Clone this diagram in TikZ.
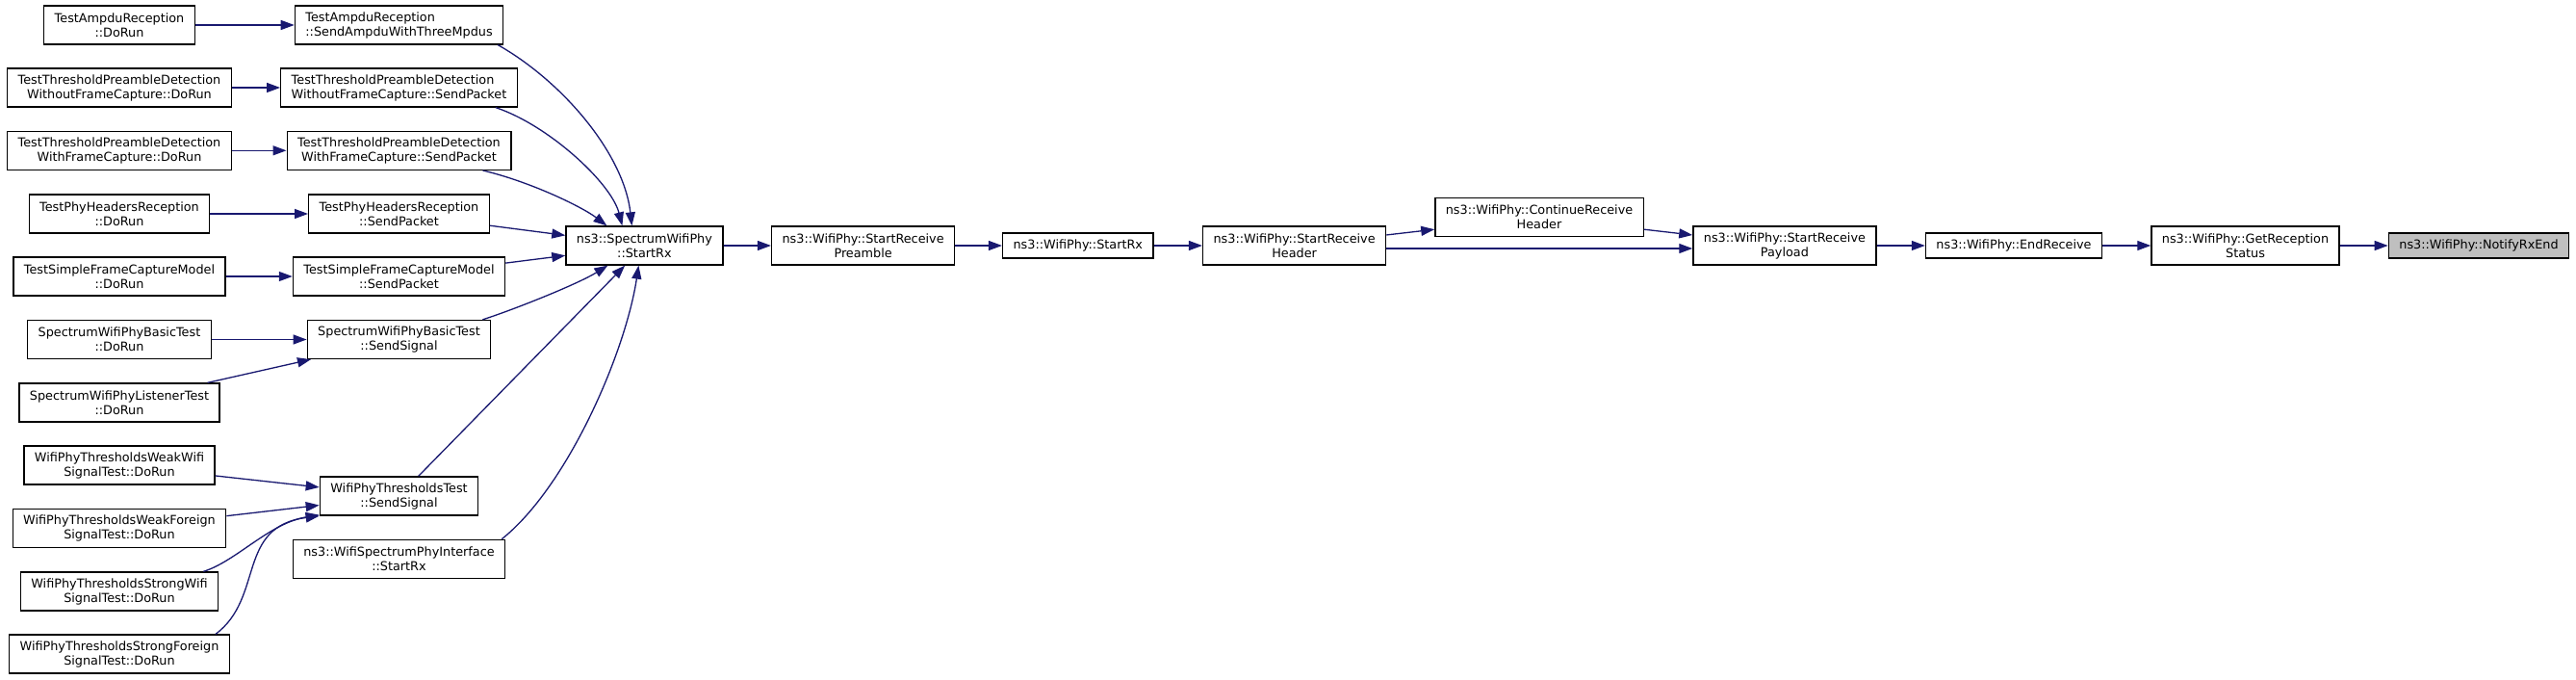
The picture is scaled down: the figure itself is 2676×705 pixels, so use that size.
\documentclass[tikz,border=0pt]{standalone}
\usepackage{fontspec}
\setmainfont{DejaVu Sans}
\usepackage{xcolor}
\usetikzlibrary{arrows.meta}
\definecolor{calledge}{RGB}{25,25,112}
\definecolor{current}{RGB}{191,191,191}
\tikzstyle{fn}=[draw=black, line width=1.3pt, fill=white, inner xsep=11pt, inner ysep=0pt, font=\fontsize{12.8}{15}\selectfont, align=center]
\tikzset{fn2/.style={fn, minimum height=40pt}}
\tikzset{fn1/.style={fn, minimum height=26pt}}
\tikzstyle{current}=[fill = current]
\tikzset{call/.style={-{Triangle[length=14pt,width=10pt]}, line width=1.3pt, color=calledge}}

\begin{document}
\begin{tikzpicture}[x=1pt,y=1pt]
  \useasboundingbox (0,0) rectangle (2676,705);
  %% Callers
  \draw (124,679) node[fn2] (L1) {TestAmpduReception\\::DoRun};
  \draw (124,614) node[fn2] (L2) {TestThresholdPreambleDetection\\WithoutFrameCapture::DoRun};
  \draw (124,548.7) node[fn2] (L3) {TestThresholdPreambleDetection\\WithFrameCapture::DoRun};
  \draw (124,483) node[fn2] (L4) {TestPhyHeadersReception\\::DoRun};
  \draw (124,418) node[fn2] (L5) {TestSimpleFrameCaptureModel\\::DoRun};
  \draw (124,352.5) node[fn2] (L6) {SpectrumWifiPhyBasicTest\\::DoRun};
  \draw (124,287) node[fn2] (L7) {SpectrumWifiPhyListenerTest\\::DoRun};
  \draw (124,222) node[fn2] (L8) {WifiPhyThresholdsWeakWifi\\SignalTest::DoRun};
  \draw (124,156.5) node[fn2] (L9) {WifiPhyThresholdsWeakForeign\\SignalTest::DoRun};
  \draw (124,91) node[fn2] (L10) {WifiPhyThresholdsStrongWifi\\SignalTest::DoRun};
  \draw (124,26) node[fn2] (L11) {WifiPhyThresholdsStrongForeign\\SignalTest::DoRun};

  \draw (414.5,679) node[fn2,align=left] (M1) {TestAmpduReception\\::SendAmpduWithThreeMpdus};
  \draw (414.5,614) node[fn2,align=left] (M2) {TestThresholdPreambleDetection\\WithoutFrameCapture::SendPacket};
  \draw (414.5,548.7) node[fn2] (M3) {TestThresholdPreambleDetection\\WithFrameCapture::SendPacket};
  \draw (414.5,483) node[fn2] (M4) {TestPhyHeadersReception\\::SendPacket};
  \draw (414.5,418) node[fn2] (M5) {TestSimpleFrameCaptureModel\\::SendPacket};
  \draw (414.5,352.5) node[fn2] (M6) {SpectrumWifiPhyBasicTest\\::SendSignal};
  \draw (414.5,190) node[fn2] (M7) {WifiPhyThresholdsTest\\::SendSignal};
  \draw (414.5,124.7) node[fn2] (M8) {ns3::WifiSpectrumPhyInterface\\::StartRx};

  %% Call chain
  \draw (669.4,450) node[fn2] (Rx) {ns3::SpectrumWifiPhy\\::StartRx};
  \draw (896.6,450) node[fn2] (N1) {ns3::WifiPhy::StartReceive\\Preamble};
  \draw (1119.8,450) node[fn1] (N2) {ns3::WifiPhy::StartRx};
  \draw (1344.6,450) node[fn2] (N3) {ns3::WifiPhy::StartReceive\\Header};
  \draw (1599,479.3) node[fn2] (N4) {ns3::WifiPhy::ContinueReceive\\Header};
  \draw (1853.9,450) node[fn2] (N5) {ns3::WifiPhy::StartReceive\\Payload};
  \draw (2092,450) node[fn1] (N6) {ns3::WifiPhy::EndReceive};
  \draw (2332.5,450) node[fn2] (N7) {ns3::WifiPhy::GetReception\\Status};
  \draw (2575,450) node[fn1,current] (N8) {ns3::WifiPhy::NotifyRxEnd};

  \draw[call] (L1) -- (M1);
  \draw[call] (L2) -- (M2);
  \draw[call] (L3) -- (M3);
  \draw[call] (L4) -- (M4);
  \draw[call] (L5) -- (M5);
  \draw[call] (L6) -- (M6);
  \draw[call] (L7) -- (M6);
  \draw[call] (L8) -- (M7);
  \draw[call] (L9) -- (M7);
  \draw[call] ([xshift=-16pt]L10.north east) .. controls (245,122) and (280,162) .. ([yshift=1pt]M7.south west);
  \draw[call] ([xshift=-15pt]L11.north east) .. controls (275,85) and (245,158) .. (M7.south west);

  \draw[call] ([xshift=-6pt]M1.south east) .. controls (585,620) and (648,545) .. ([xshift=-13pt]Rx.north);
  \draw[call] ([xshift=-23pt]M2.south east) .. controls (570,575) and (635,515) .. ([xshift=-23pt]Rx.north);
  \draw[call] ([xshift=-30pt]M3.south east) .. controls (552,516) and (605,490) .. ([xshift=-39pt]Rx.north);
  \draw[call] (M4) -- (Rx);
  \draw[call] (M5) -- (Rx);
  \draw[call] ([xshift=-9pt]M6.north east) .. controls (535,384) and (600,410) .. ([xshift=-38pt]Rx.south);
  \draw[call] (M7) -- (Rx);
  \draw[call] ([xshift=-4pt]M8.north east) .. controls (590,200) and (650,340) .. ([xshift=-6pt]Rx.south);

  \draw[call] (Rx) -- (N1);
  \draw[call] (N1) -- (N2);
  \draw[call] (N2) -- (N3);
  \draw[call] (N3) -- (N4);
  \draw[call] ([yshift=-3pt]N3.east) -- ([yshift=-3pt]N5.west);
  \draw[call] (N4) -- (N5);
  \draw[call] (N5) -- (N6);
  \draw[call] (N6) -- (N7);
  \draw[call] (N7) -- (N8);
\end{tikzpicture}
\end{document}
